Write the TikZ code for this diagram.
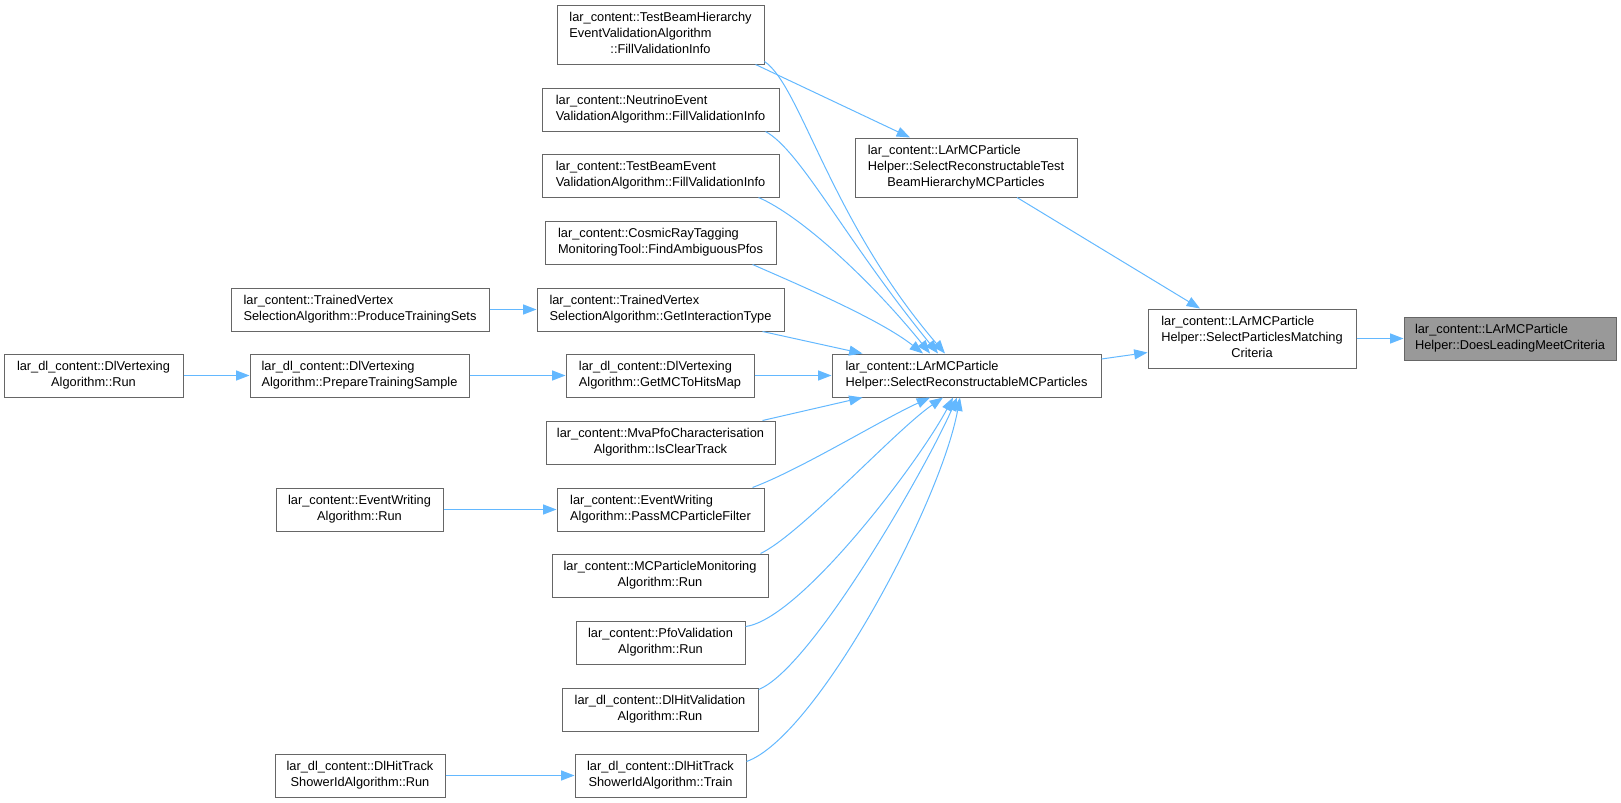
\documentclass[tikz,border=0pt]{standalone}
\usepackage{fontspec}
\setmainfont{Liberation Sans}
\usetikzlibrary{arrows.meta,calc}
\definecolor{steel}{HTML}{63B8FF}
\definecolor{grey40}{HTML}{666666}
\definecolor{grey60}{HTML}{999999}
\newcommand{\lastln}[1]{\multicolumn{1}{@{}c@{}}{#1}}
\newcommand{\twoln}[2]{\begin{tabular}{@{}l@{}}#1\\\lastln{#2}\end{tabular}}
\newcommand{\threeln}[3]{\begin{tabular}{@{}l@{}}#1\\#2\\\lastln{#3}\end{tabular}}
\begin{document}
\begin{tikzpicture}[x=0.75pt, y=-0.75pt,
	box/.style={draw=grey40, fill=white, line width=0.75pt, inner sep=0pt,
		minimum width=#1*0.75pt, minimum height=43*0.75pt,
		font=\fontsize{9.6}{12}\selectfont},
	tall/.style={minimum height=59*0.75pt},
	call/.style={draw=steel, line width=0.75pt, -{Triangle[length=10pt,width=7.5pt]}}]
	\useasboundingbox (0,0) rectangle (1621,803);

	\node[box=207, tall] (tbh) at (660.5,34.5) {\threeln{lar\_content::TestBeamHierarchy}{EventValidationAlgorithm}{::FillValidationInfo}};
	\node[box=237] (nuev) at (660.5,109.5) {\twoln{lar\_content::NeutrinoEvent}{ValidationAlgorithm::FillValidationInfo}};
	\node[box=237] (tbev) at (660.5,175.5) {\twoln{lar\_content::TestBeamEvent}{ValidationAlgorithm::FillValidationInfo}};
	\node[box=231] (crt) at (660.5,242.5) {\twoln{lar\_content::CosmicRayTagging}{MonitoringTool::FindAmbiguousPfos}};
	\node[box=258] (tvprod) at (360,309.5) {\twoln{lar\_content::TrainedVertex}{SelectionAlgorithm::ProduceTrainingSets}};
	\node[box=247] (tvgit) at (660.5,309.5) {\twoln{lar\_content::TrainedVertex}{SelectionAlgorithm::GetInteractionType}};
	\node[box=179] (dlvrun) at (93.5,375.5) {\twoln{lar\_dl\_content::DlVertexing}{Algorithm::Run}};
	\node[box=219] (dlvprep) at (359.5,375.5) {\twoln{lar\_dl\_content::DlVertexing}{Algorithm::PrepareTrainingSample}};
	\node[box=188] (dlvmc) at (660,375.5) {\twoln{lar\_dl\_content::DlVertexing}{Algorithm::GetMCToHitsMap}};
	\node[box=229] (mva) at (660.5,442.5) {\twoln{lar\_content::MvaPfoCharacterisation}{Algorithm::IsClearTrack}};
	\node[box=167] (ewrun) at (359.5,509.5) {\twoln{lar\_content::EventWriting}{Algorithm::Run}};
	\node[box=207] (ewpass) at (660.5,509.5) {\twoln{lar\_content::EventWriting}{Algorithm::PassMCParticleFilter}};
	\node[box=216] (mcpm) at (660,575.5) {\twoln{lar\_content::MCParticleMonitoring}{Algorithm::Run}};
	\node[box=169] (pfov) at (660.5,642.5) {\twoln{lar\_content::PfoValidation}{Algorithm::Run}};
	\node[box=196] (dlhitv) at (660,709.5) {\twoln{lar\_dl\_content::DlHitValidation}{Algorithm::Run}};
	\node[box=170] (dlhtrun) at (360,775.5) {\twoln{lar\_dl\_content::DlHitTrack}{ShowerIdAlgorithm::Run}};
	\node[box=171] (dlhttrain) at (660.5,775.5) {\twoln{lar\_dl\_content::DlHitTrack}{ShowerIdAlgorithm::Train}};
	\node[box=222, tall] (srtb) at (966,167.5) {\threeln{lar\_content::LArMCParticle}{Helper::SelectReconstructableTest}{BeamHierarchyMCParticles}};
	\node[box=269] (srmc) at (966.5,375.5) {\twoln{lar\_content::LArMCParticle}{Helper::SelectReconstructableMCParticles}};
	\node[box=208, tall] (spmc) at (1252,338.5) {\threeln{lar\_content::LArMCParticle}{Helper::SelectParticlesMatching}{Criteria}};
	\node[box=212, fill=grey60] (dlmc) at (1510,338.5) {\twoln{lar\_content::LArMCParticle}{Helper::DoesLeadingMeetCriteria}};

	\draw[call] (tvprod) -- (tvgit);
	\draw[call] (dlvrun) -- (dlvprep);
	\draw[call] (dlvprep) -- (dlvmc);
	\draw[call] (dlvmc) -- (srmc);
	\draw[call] (ewrun) -- (ewpass);
	\draw[call] (dlhtrun) -- (dlhttrain);
	\draw[call] (spmc) -- (dlmc);
	\draw[call] ($(tbh.south east)+(-9,0)$) -- ($(srtb.north)+(-56,0)$);
	\draw[call] ($(srtb.south)+(51,0)$) -- ($(spmc.north)+(-52,0)$);
	\draw[call] ($(srmc.east)+(0,-16.5)$) -- ($(spmc.west)+(0,14)$);

	\draw[call] ($(tbh.south east)+(0,-3)$) .. controls +(36,24) and +(-115,-134) .. ($(srmc.north)+(-21.5,0)$);
	\draw[call] ($(nuev.south east)+(-14,0)$) .. controls +(35,19) and +(-93,-114) .. ($(srmc.north)+(-28.5,0)$);
	\draw[call] ($(tbev.south east)+(-21,0)$) .. controls +(42,18) and +(-60,-74) .. ($(srmc.north)+(-36.5,0)$);
	\draw[call] ($(crt.south east)+(-24,0)$) .. controls +(48,21) and +(-43,-34) .. ($(srmc.north)+(-43.5,0)$);
	\draw[call] ($(tvgit.south east)+(-22,0)$) -- ($(srmc.north west)+(31,0)$);
	\draw[call] ($(mva.north east)+(-13,0)$) -- ($(srmc.south west)+(31,0)$);
	\draw[call] ($(ewpass.north east)+(-12,0)$) .. controls +(48,-18) and +(-50,23) .. ($(srmc.south)+(-36.5,0)$);
	\draw[call] ($(mcpm.north east)+(-8,0)$) .. controls +(40,-19) and +(-48,33) .. ($(srmc.south)+(-23.5,0)$);
	\draw[call] ($(pfov.north east)+(0,6)$) .. controls +(55,-7) and +(-33,63) .. ($(srmc.south)+(-13.5,0)$);
	\draw[call] ($(dlhitv.north east)+(0,2)$) .. controls +(52,-20) and +(-32,73) .. ($(srmc.south)+(-9.5,0)$);
	\draw[call] ($(dlhttrain.north east)+(0,8)$) .. controls +(69,-24) and +(-20,108) .. ($(srmc.south)+(-6.5,0)$);
\end{tikzpicture}
\end{document}
